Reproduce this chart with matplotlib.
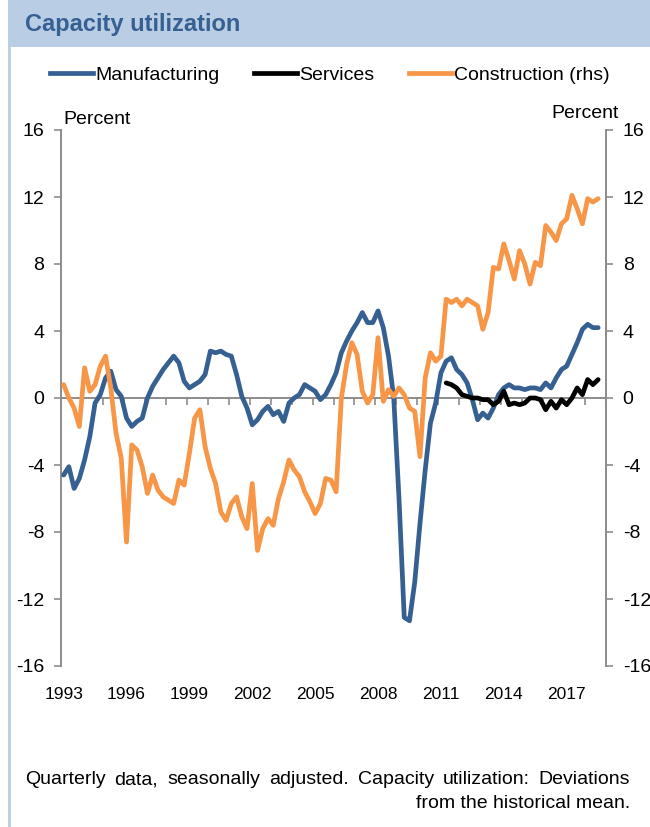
import matplotlib
matplotlib.use("Agg")
import matplotlib.pyplot as plt
import pandas as pd
from matplotlib.patches import Rectangle
from matplotlib.lines import Line2D

plt.rcParams["axes.unicode_minus"] = False

# ---- data: deviations from the historical mean, percent, quarterly ----
quarters = pd.period_range("1993Q1", "2018Q3", freq="Q")

manufacturing = [
    -4.6, -4.1, -5.4, -4.8, -3.7, -2.3, -0.3, 0.2, 1.2, 1.6,
    0.5, 0.1, -1.2, -1.7, -1.4, -1.2, 0.0, 0.7, 1.2, 1.7,
    2.1, 2.5, 2.1, 1.0, 0.6, 0.8, 1.0, 1.4, 2.8, 2.7,
    2.8, 2.6, 2.5, 1.4, 0.1, -0.6, -1.6, -1.3, -0.8, -0.5,
    -1.0, -0.8, -1.4, -0.3, 0.0, 0.2, 0.8, 0.6, 0.4, -0.1,
    0.2, 0.8, 1.5, 2.7, 3.4, 4.0, 4.5, 5.1, 4.5, 4.5,
    5.2, 4.2, 2.5, 0.0, -6.0, -13.1, -13.3, -11.0, -7.5, -4.3,
    -1.5, -0.3, 1.5, 2.2, 2.4, 1.7, 1.4, 0.9, -0.1, -1.3,
    -0.9, -1.2, -0.6, 0.2, 0.6, 0.8, 0.6, 0.6, 0.5, 0.6,
    0.6, 0.5, 0.9, 0.6, 1.2, 1.7, 1.9, 2.6, 3.3, 4.1,
    4.4, 4.2, 4.2,
]

construction = [
    0.8, 0.0, -0.6, -1.7, 1.8, 0.4, 0.8, 1.9, 2.5, 0.6,
    -2.1, -3.6, -8.6, -2.8, -3.1, -4.1, -5.7, -4.6, -5.5, -5.9,
    -6.1, -6.3, -4.9, -5.2, -3.3, -1.2, -0.7, -2.9, -4.2, -5.1,
    -6.8, -7.3, -6.3, -5.9, -7.1, -7.8, -5.1, -9.1, -7.8, -7.2,
    -7.6, -6.0, -5.0, -3.7, -4.3, -4.7, -5.6, -6.2, -6.9, -6.3,
    -4.8, -4.9, -5.6, 0.0, 2.0, 3.3, 2.6, 0.4, -0.3, 0.2,
    3.6, -0.2, 0.5, 0.1, 0.6, 0.2, -0.6, -0.8, -3.5, 1.2,
    2.7, 2.2, 2.5, 5.9, 5.7, 5.9, 5.5, 5.9, 5.7, 5.5,
    4.1, 5.1, 7.8, 7.7, 9.2, 8.2, 7.1, 8.8, 8.0, 6.8,
    8.1, 7.9, 10.3, 9.9, 9.4, 10.4, 10.7, 12.1, 11.3, 10.4,
    11.9, 11.7, 11.9,
]

services_quarters = pd.period_range("2011Q2", "2018Q3", freq="Q")
services = [
    0.9, 0.8, 0.6, 0.2, 0.1, 0.0, 0.0, -0.1, -0.1, -0.4,
    -0.2, 0.4, -0.4, -0.3, -0.4, -0.3, 0.0, 0.0, -0.1, -0.7,
    -0.2, -0.6, -0.1, -0.4, 0.0, 0.6, 0.2, 1.1, 0.8, 1.1,
]

year_labels = ["1993", "1996", "1999", "2002", "2005", "2008", "2011", "2014", "2017"]
y_ticks = [-16, -12, -8, -4, 0, 4, 8, 12, 16]
series_names = ["Manufacturing", "Services", "Construction (rhs)"]

BLUE = "#376092"
ORANGE = "#F79646"
BLACK = "#000000"
GREY = "#8C8C8C"
BAR = "#B9CDE5"
TITLE = "#376092"
FONT = "Liberation Sans"
LW = 3.4


def to_x(periods):
    return [p.year + (p.quarter - 1) / 4 for p in periods]


W, H = 650, 827
fig = plt.figure(figsize=(W / 100, H / 100), dpi=100)
fig.patch.set_facecolor("white")

# title band and left page border
fig.patches.append(Rectangle((8 / W, 1 - 47 / H), 1 - 8 / W, 47 / H,
                             transform=fig.transFigure, facecolor=BAR,
                             edgecolor="none", zorder=0))
fig.lines.append(Line2D([9 / W, 9 / W], [0, 1], transform=fig.transFigure,
                        color=BAR, lw=2))
fig.text(25 / W, 1 - 25 / H, "Capacity utilization", fontsize=17,
         fontweight="bold", color=TITLE, family=FONT, va="center", ha="left")

x_left, x_right = 61 / W, 606 / W
y_bot, y_top = 1 - 666 / H, 1 - 130 / H
ax = fig.add_axes([x_left, y_bot, x_right - x_left, y_top - y_bot])
ax2 = ax.twinx()

x_all = to_x(quarters)
x_srv = to_x(services_quarters)

style = dict(lw=LW, solid_capstyle="round", solid_joinstyle="round")
ax.plot(x_all, manufacturing, color=BLUE, zorder=3, **style)
ax.plot(x_srv, services, color=BLACK, zorder=4, **style)
ax2.plot(x_all, construction, color=ORANGE, zorder=3, **style)

x0 = quarters[0].year - 0.125
ax.set_xlim(x0, x0 + 26)
for a in (ax, ax2):
    a.set_ylim(-16, 16)
    a.set_yticks(y_ticks)
    a.spines["top"].set_visible(False)
    a.patch.set_visible(False)

# zero line acting as the category axis with yearly ticks
ax.spines["bottom"].set_position(("data", 0))
ax.spines["bottom"].set_color(GREY)
ax.spines["bottom"].set_linewidth(1.4)
ax.set_xticks([x0 + k for k in range(27)])
ax.tick_params(axis="x", direction="out", length=5, width=1.2, color=GREY,
               labelbottom=False)
ax2.spines["bottom"].set_visible(False)

ax.spines["left"].set_color(GREY)
ax.spines["left"].set_linewidth(1.4)
ax.spines["right"].set_visible(False)
ax2.spines["left"].set_visible(False)
ax2.spines["right"].set_color(GREY)
ax2.spines["right"].set_linewidth(1.4)

ax.tick_params(axis="y", direction="out", length=5, width=1.2, color=GREY,
               labelsize=14, pad=7)
ax2.tick_params(axis="y", direction="out", length=5, width=1.2, color=GREY,
                labelsize=14, pad=7)
for lab in ax.get_yticklabels() + ax2.get_yticklabels():
    lab.set_family(FONT)

# year labels below the plot area
sec = ax.secondary_xaxis(0)
sec.set_xticks([int(y) for y in year_labels])
sec.set_xticklabels(year_labels, family=FONT, fontsize=12.5)
sec.tick_params(axis="x", length=0, pad=15)
sec.spines["bottom"].set_visible(False)

fig.text(63 / W, 1 - 119 / H, "Percent", fontsize=14, family=FONT,
         ha="left", va="center")
fig.text(619 / W, 1 - 113 / H, "Percent", fontsize=14, family=FONT,
         ha="right", va="center")

handles = [Line2D([], [], color=c, lw=LW) for c in (BLUE, BLACK, ORANGE)]
fig.legend(handles, series_names, loc="center", ncol=3,
           bbox_to_anchor=(330 / W, 1 - 75 / H), frameon=False,
           prop={"family": FONT, "size": 14}, handlelength=2.2,
           handletextpad=0.1, columnspacing=1.8)

# justified footnote
renderer = fig.canvas.get_renderer()
line1 = "Quarterly data, seasonally adjusted. Capacity utilization: Deviations".split()
left_px, right_px = 25, 630
words = [fig.text(0, 1 - 780 / H, w, fontsize=14, family=FONT,
                  ha="left", va="center") for w in line1]
widths = [t.get_window_extent(renderer).width for t in words]
gap = (right_px - left_px - sum(widths)) / (len(words) - 1)
pos = left_px
for t, w in zip(words, widths):
    t.set_x(pos / W)
    pos += w + gap
fig.text(right_px / W, 1 - 803 / H, "from the historical mean.", fontsize=14,
         family=FONT, ha="right", va="center")

fig.savefig("out.png", dpi=100)
